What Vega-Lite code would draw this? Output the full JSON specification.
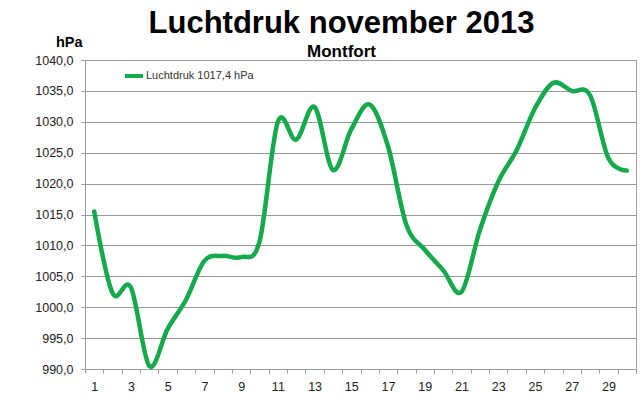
{
  "$schema": "https://vega.github.io/schema/vega-lite/v6.json",
  "width": 551,
  "height": 309,
  "autosize": "none",
  "padding": {"left": 85, "top": 60, "right": 4, "bottom": 28},
  "background": "white",
  "title": {
    "text": "Luchtdruk november 2013",
    "subtitle": "Montfort",
    "anchor": "middle",
    "frame": "group",
    "dx": -19,
    "offset": -27,
    "font": "Liberation Sans",
    "fontSize": 31,
    "fontWeight": "bold",
    "color": "#000000",
    "subtitleFont": "Liberation Sans",
    "subtitleFontSize": 17,
    "subtitleFontWeight": "bold",
    "subtitleColor": "#000000",
    "subtitlePadding": 4
  },
  "config": {
    "view": {"stroke": "#a0a0a0", "strokeWidth": 1},
    "font": "Liberation Sans"
  },
  "data": {
    "values": [
      {"day": 1, "p": 1015.5, "s": "Luchtdruk 1017,4 hPa"},
      {"day": 2, "p": 1002.3, "s": "Luchtdruk 1017,4 hPa"},
      {"day": 3, "p": 1003.2, "s": "Luchtdruk 1017,4 hPa"},
      {"day": 4, "p": 990.5, "s": "Luchtdruk 1017,4 hPa"},
      {"day": 5, "p": 996.5, "s": "Luchtdruk 1017,4 hPa"},
      {"day": 6, "p": 1001.2, "s": "Luchtdruk 1017,4 hPa"},
      {"day": 7, "p": 1007.5, "s": "Luchtdruk 1017,4 hPa"},
      {"day": 8, "p": 1008.3, "s": "Luchtdruk 1017,4 hPa"},
      {"day": 9, "p": 1008.1, "s": "Luchtdruk 1017,4 hPa"},
      {"day": 10, "p": 1010.6, "s": "Luchtdruk 1017,4 hPa"},
      {"day": 11, "p": 1030.0, "s": "Luchtdruk 1017,4 hPa"},
      {"day": 12, "p": 1027.1, "s": "Luchtdruk 1017,4 hPa"},
      {"day": 13, "p": 1032.4, "s": "Luchtdruk 1017,4 hPa"},
      {"day": 14, "p": 1022.2, "s": "Luchtdruk 1017,4 hPa"},
      {"day": 15, "p": 1028.8, "s": "Luchtdruk 1017,4 hPa"},
      {"day": 16, "p": 1032.8, "s": "Luchtdruk 1017,4 hPa"},
      {"day": 17, "p": 1026.0, "s": "Luchtdruk 1017,4 hPa"},
      {"day": 18, "p": 1013.3, "s": "Luchtdruk 1017,4 hPa"},
      {"day": 19, "p": 1009.3, "s": "Luchtdruk 1017,4 hPa"},
      {"day": 20, "p": 1006.0, "s": "Luchtdruk 1017,4 hPa"},
      {"day": 21, "p": 1002.5, "s": "Luchtdruk 1017,4 hPa"},
      {"day": 22, "p": 1012.5, "s": "Luchtdruk 1017,4 hPa"},
      {"day": 23, "p": 1020.3, "s": "Luchtdruk 1017,4 hPa"},
      {"day": 24, "p": 1025.4, "s": "Luchtdruk 1017,4 hPa"},
      {"day": 25, "p": 1032.2, "s": "Luchtdruk 1017,4 hPa"},
      {"day": 26, "p": 1036.3, "s": "Luchtdruk 1017,4 hPa"},
      {"day": 27, "p": 1035.0, "s": "Luchtdruk 1017,4 hPa"},
      {"day": 28, "p": 1034.3, "s": "Luchtdruk 1017,4 hPa"},
      {"day": 29, "p": 1024.1, "s": "Luchtdruk 1017,4 hPa"},
      {"day": 30, "p": 1022.1, "s": "Luchtdruk 1017,4 hPa"}
    ]
  },
  "mark": {"type": "line", "interpolate": "cardinal", "strokeWidth": 4.5, "strokeCap": "round"},
  "encoding": {
    "x": {
      "field": "day",
      "type": "quantitative",
      "scale": {"domain": [0.5, 30.5], "nice": false, "zero": false},
      "axis": {
        "title": null,
        "values": [0.5, 1.5, 2.5, 3.5, 4.5, 5.5, 6.5, 7.5, 8.5, 9.5, 10.5, 11.5, 12.5, 13.5, 14.5, 15.5, 16.5, 17.5, 18.5, 19.5, 20.5, 21.5, 22.5, 23.5, 24.5, 25.5, 26.5, 27.5, 28.5, 29.5, 30.5],
        "labelExpr": "((datum.value + 0.5) % 2 == 1 && datum.value < 30) ? format(datum.value + 0.5, 'd') : ''",
        "labelOffset": 9.18,
        "labelFontSize": 12.5,
        "labelColor": "#222222",
        "labelPadding": 7,
        "labelOverlap": false,
        "labelFlush": false,
        "tickSize": 4,
        "tickColor": "#999999",
        "domainColor": "#999999",
        "grid": false
      }
    },
    "y": {
      "field": "p",
      "type": "quantitative",
      "scale": {"domain": [990, 1040], "nice": false, "zero": false},
      "axis": {
        "title": "hPa",
        "titleAngle": 0,
        "titleAlign": "right",
        "titleBaseline": "alphabetic",
        "titleX": -3,
        "titleY": -14,
        "titleFontSize": 14.5,
        "titleFontWeight": "bold",
        "titleColor": "#000000",
        "values": [990, 995, 1000, 1005, 1010, 1015, 1020, 1025, 1030, 1035, 1040],
        "labelExpr": "replace(format(datum.value, '.1f'), '.', ',')",
        "labelFontSize": 12.5,
        "labelColor": "#222222",
        "labelPadding": 8,
        "tickSize": 4,
        "tickColor": "#999999",
        "domainColor": "#999999",
        "gridColor": "#999999",
        "grid": true
      }
    },
    "color": {
      "field": "s",
      "type": "nominal",
      "scale": {"range": ["#14a94a"]},
      "legend": {
        "title": null,
        "orient": "none",
        "legendX": 38,
        "legendY": 5,
        "symbolType": "stroke",
        "symbolSize": 324,
        "symbolStrokeWidth": 4,
        "labelFontSize": 11,
        "labelColor": "#333333",
        "labelOffset": 1
      }
    }
  }
}
